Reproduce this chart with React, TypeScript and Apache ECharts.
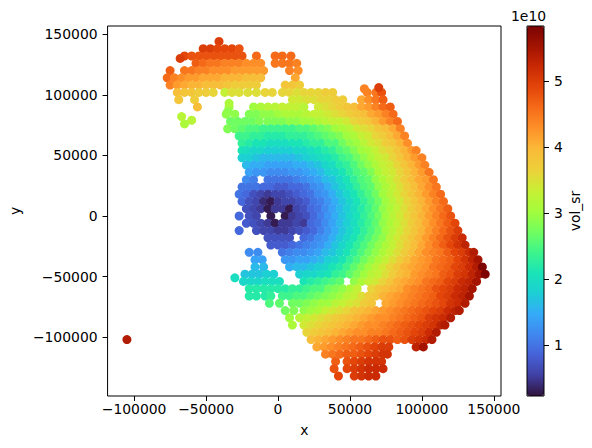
import React, { useEffect, useRef } from "react";
import * as echarts from "echarts";

// x and y in thousands, vol_sr in units of 1e9.
const rowY = [144,138,132,126,120,114,108,102,96,90,84,78,72,66,60,54,48,42,36,30,24,18,12,6,0,-6,-12,-18,-24,-30,-36,-42,-48,-54,-60,-66,-72,-78,-84,-90,-96,-102,-108,-114,-120,-126,-132];
const rowCells: number[][] = [
[-41,50],
[-52,50,-47,50,-42,49,-37,49,-32,49,-27,48],
[-65,49,-60,48,-55,48,-50,48,-45,48,-40,48,-35,48,-30,48,-25,48,-15,46,-2,46,3,46,9,46],
[-57,47,-52,46,-47,45,-42,45,-37,44,-32,44,-27,44,-22,43,-17,43,-12,43,-2,45,3,45,8,45,13,44],
[-75,47,-65,45,-60,45,-55,44,-50,44,-45,43,-40,43,-35,43,-30,42,-25,42,-20,42,-15,42,-10,42,8,44,14,43],
[-77,46,-72,44,-67,43,-62,42,-57,42,-52,41,-47,41,-42,41,-37,40,-32,40,-27,40,-22,39,-17,39,-12,39,12,41],
[-75,44,-70,42,-65,41,-60,40,-55,40,-50,39,-45,39,-40,39,-35,38,-30,37,-25,37,-20,37,-15,37,5,38,10,38,15,37],
[-70,39,-65,38,-60,38,-55,37,-50,37,-45,36,-37,33,-32,35,-27,35,-21,35,-15,35,-9,36,-4,36,3,36,8,36,13,35,18,36,23,36,28,36,33,37,38,37,62,44,68,45,72,48],
[-69,38,-58,37,10,34,15,34,20,35,25,35,30,36,35,36,40,37,45,37,58,41,63,43,68,45,73,47],
[-56,39,-34,30,-17,30,-12,31,-7,32,-2,32,3,33,8,33,13,33,18,32,28,34,33,35,38,36,43,37,48,38,53,39,58,41,63,42,68,44,73,46,78,47],
[-36,29,-30,29,-20,28,-15,28,-10,29,-5,29,0,30,5,31,10,31,15,31,20,32,25,33,30,33,35,34,40,35,45,36,50,37,55,38,60,39,65,41,70,42,75,44,80,46],
[-33,27,-28,27,-23,27,-18,27,-13,28,-7,28,-2,28,3,28,8,29,13,29,18,30,23,30,28,31,33,32,38,33,43,33,48,34,53,36,58,37,63,38,68,40,73,42,78,44,83,46],
[-35,28,-30,27,-25,26,-20,25,-15,25,-10,24,-5,24,0,24,5,24,10,24,15,25,20,25,25,26,30,27,35,28,40,30,45,31,50,32,55,34,60,35,65,36,70,38,75,39,80,41,85,44],
[-27,24,-22,24,-17,23,-12,23,-7,22,-2,22,3,22,8,23,13,23,18,23,23,24,28,25,33,26,38,27,43,28,48,30,53,31,58,33,63,34,68,36,73,37,78,39,83,41,88,44],
[-25,23,-20,22,-15,21,-10,21,-5,20,0,20,5,20,10,21,15,21,20,22,25,23,30,23,35,25,40,25,45,27,50,29,55,30,60,32,65,34,70,35,75,37,80,38,85,40,90,43],
[-25,21,-22,20,-17,19,-12,19,-7,18,-2,18,3,18,8,18,13,19,18,19,23,20,28,21,33,22,38,23,43,25,48,26,53,28,58,30,63,31,68,33,73,35,78,36,83,38,88,40,93,42,96,44],
[-25,18,-20,18,-15,17,-10,16,-5,16,0,16,5,16,10,16,15,17,20,18,25,19,30,20,35,21,40,22,45,24,50,25,55,27,60,29,65,31,70,33,75,34,80,36,85,38,90,40,95,42,100,44],
[-22,16,-17,15,-12,15,-7,14,-2,14,3,14,8,14,13,15,18,15,23,16,28,17,33,19,38,20,43,22,48,23,53,25,58,27,63,29,68,31,73,33,78,34,83,36,88,38,93,40,98,42,102,44],
[-20,14,-15,13,-10,13,-5,12,0,12,5,12,10,13,15,13,20,14,25,15,30,16,35,18,40,19,45,21,50,23,55,25,60,26,65,28,70,31,75,33,80,34,85,36,90,38,95,40,100,42,105,45],
[-22,12,-17,11,-7,10,-2,10,3,10,8,10,13,11,18,12,23,13,28,14,33,16,38,17,43,19,48,21,53,23,58,25,63,26,68,29,73,31,78,33,83,35,88,37,93,39,98,41,103,42,108,45],
[-25,10,-20,10,-15,10,-10,9,-5,9,0,8,5,8,10,9,15,9,20,10,25,12,30,13,35,15,40,17,45,19,50,21,55,23,60,25,65,26,70,29,75,31,80,33,85,35,90,37,95,39,100,41,105,43,110,45],
[-27,10,-22,9,-17,7,-12,6,-7,5,-2,6,3,6,8,7,13,8,18,9,23,10,28,12,33,13,38,15,43,17,48,19,53,21,58,23,63,25,68,27,73,30,78,32,83,34,88,36,93,38,98,40,103,42,108,44,113,46],
[-25,9,-20,7,-15,6,-10,4,-5,3,0,5,5,6,10,6,15,7,20,8,25,10,30,11,35,13,40,15,45,17,50,19,55,21,60,23,65,25,70,27,75,30,80,32,85,34,90,36,95,38,100,40,105,42,110,44,115,46],
[-22,7,-17,6,-12,5,-7,3,-2,5,3,5,8,3,13,6,18,7,23,9,28,10,33,12,38,14,43,16,48,18,53,20,58,22,63,24,68,26,73,29,78,31,83,33,88,35,93,37,98,39,103,41,108,43,113,45,118,47],
[-27,9,-20,7,-15,6,-5,3,5,3,10,5,15,6,20,7,25,9,30,11,35,13,40,15,45,17,50,19,55,21,60,23,65,25,70,27,75,30,80,32,85,34,90,36,95,38,100,40,105,42,110,44,115,46,120,48],
[-22,8,-17,7,-12,6,-7,5,-2,3,3,5,8,5,13,6,18,5,23,9,28,10,33,12,38,14,43,16,48,18,53,20,58,22,63,24,68,26,73,29,78,31,83,33,88,35,93,37,98,39,103,41,108,43,113,45,118,47,123,49],
[-27,9,-15,7,-10,6,-5,6,0,5,5,5,10,6,15,7,20,8,25,9,30,11,35,13,40,15,45,17,50,19,55,21,60,23,65,25,70,27,75,30,80,32,85,34,90,36,95,38,100,40,105,42,110,44,115,46,120,48,125,50],
[-7,7,-2,7,3,7,8,7,18,9,23,10,28,12,33,13,38,15,43,17,48,19,53,21,58,23,63,25,68,27,73,29,78,32,83,34,88,36,93,38,98,40,103,42,108,44,113,46,118,48,123,50,128,52],
[-5,8,0,8,5,8,10,9,15,10,20,11,25,12,30,13,35,15,40,17,45,19,50,21,55,23,60,25,65,27,70,29,75,31,80,33,85,35,90,37,95,39,100,41,105,43,110,45,115,47,120,49,125,51,130,53],
[-20,12,-14,12,3,10,8,11,13,12,18,12,23,13,28,14,33,16,38,17,43,19,48,21,53,23,58,25,63,27,68,29,73,31,78,33,83,35,88,37,93,39,98,41,103,43,108,44,113,45,118,47,123,49,128,50,133,52,136,54],
[-16,14,-11,14,5,13,10,13,15,14,20,14,25,15,30,16,35,18,40,19,45,21,50,23,55,25,60,27,65,29,70,31,75,33,80,35,85,37,90,39,95,41,100,42,105,43,110,45,115,46,120,47,125,49,130,51,135,53,139,55],
[-16,16,-10,16,8,15,13,16,18,16,23,17,28,18,33,19,38,21,43,22,48,24,53,26,58,28,63,30,68,32,73,34,78,36,83,38,88,40,93,41,98,42,103,43,108,45,113,46,118,47,123,49,128,50,133,52,138,54,142,58],
[-23,17,-18,17,-13,17,-8,18,-3,18,15,18,20,19,25,19,30,20,35,21,40,23,45,24,50,26,55,28,60,30,65,32,70,33,75,35,80,37,85,39,90,40,95,42,100,43,105,44,110,45,115,47,120,48,125,50,130,51,135,53,140,55,144,58],
[-24,19,-19,19,-14,19,-9,20,-4,20,1,20,18,21,23,22,28,23,33,24,38,25,43,26,53,29,58,31,63,33,68,34,73,36,78,38,83,40,88,41,93,42,98,43,103,45,108,46,113,47,118,49,123,50,128,52,133,53,138,55],
[-20,22,-15,22,-10,22,-5,22,0,22,5,22,10,23,15,23,20,24,25,25,30,25,35,27,40,28,45,29,50,31,55,33,65,36,70,38,75,39,80,40,85,41,90,43,95,44,100,45,105,46,110,48,115,49,120,50,125,52,130,53,135,55],
[-20,22,-15,22,-9,22,-5,23,3,24,8,24,13,25,18,25,23,26,28,27,33,28,38,29,43,30,48,32,53,33,58,35,63,37,68,38,73,40,78,41,83,42,88,43,93,44,98,45,103,46,108,47,113,49,118,50,123,52,128,53,133,55],
[-6,25,1,26,10,27,15,27,20,28,25,29,30,30,35,30,40,32,45,33,50,34,55,35,60,37,65,38,75,41,80,42,85,43,90,44,95,45,100,46,105,47,110,48,115,49,120,51,125,52,130,54],
[5,27,11,28,18,29,23,30,28,31,33,33,38,34,43,35,48,36,53,38,58,39,63,40,68,41,73,42,78,43,83,44,88,45,93,46,98,47,103,48,108,49,113,50,118,52,123,53,126,54],
[8,30,15,32,20,33,25,34,30,35,35,36,40,37,45,38,50,39,55,40,60,41,65,42,70,43,75,43,80,44,85,45,90,46,95,47,100,48,105,50,110,51,115,52,120,54],
[10,31,18,34,23,35,28,36,33,37,38,38,43,39,48,40,53,41,58,42,63,43,68,43,73,44,78,45,83,46,88,47,93,48,98,49,103,50,108,51,113,53,116,54],
[20,36,25,37,30,38,35,39,40,40,45,41,50,42,55,43,60,43,65,44,70,44,75,45,80,46,85,47,90,48,95,49,100,50,105,52,110,54],
[23,39,28,40,33,41,38,42,43,43,48,44,53,45,58,45,63,46,68,47,73,48,78,48,83,47,88,48,93,50,98,51,103,52,107,54],
[27,41,32,42,37,43,42,44,47,45,52,46,57,47,62,48,67,49,72,50,77,50,96,53,101,55],
[33,44,38,45,43,46,48,47,53,47,58,48,63,49,68,50,73,51,76,51],
[40,47,48,48,53,49,58,50,63,51,68,51,72,51],
[39,48,48,49,53,50,58,51,63,52,68,52,73,52],
[42,49,53,50,58,51,63,52,68,52],
];
const strayPoints = [
  [-105,-102,54],[-30,-51,20],[-67,82,32],[-60,79,32],[-65,76,31],[-34,93,31],[60,105,44],[70,106,50],[-35,86,29],[-68,130,50],
];
const xTicks = [-100000,-50000,0,50000,100000,150000];
const yTicks = [-100000,-50000,0,50000,100000,150000];
const barTicks = [1,2,3,4,5];
const turbo = ["#30123b","#4040a3","#4662d8","#4088ef","#35abf8","#1ccfd4","#1ae4b6","#3ef58b","#72fe5e","#a4fc3c","#c8ef34","#edd03a","#faba39","#fe9129","#f66c19","#e4460a","#ca2a04","#a31301","#7a0403"];

const font = "DejaVu Sans";
const fontSize = 13.9;
const fmt = (v: number) => (v < 0 ? "\u2212" + -v : String(v));

export default function App() {
  const ref = useRef<HTMLDivElement>(null);
  useEffect(() => {
    document.body.style.margin = "0";
    const chart = echarts.init(ref.current!, undefined, { renderer: "svg" });
    const points: number[][] = [];
    rowCells.forEach((cells, i) => {
      for (let k = 0; k < cells.length; k += 2) {
        points.push([cells[k] * 1000, rowY[i] * 1000, cells[k + 1] * 1e9]);
      }
    });
    strayPoints.forEach((p) => points.push([p[0] * 1000, p[1] * 1000, p[2] * 1e9]));
    const axisBase = {
      axisLine: { show: false, onZero: false },
      splitLine: { show: false },
      axisTick: { show: true, length: 5, inside: false, lineStyle: { color: "#000", width: 1 } },
      nameTextStyle: { color: "#000", fontFamily: font, fontSize },
      nameLocation: "middle" as const,
    };
    const label = { color: "#000", fontFamily: font, fontSize, hideOverlap: false };
    chart.setOption({
      animation: false,
      backgroundColor: "#fff",
      grid: [
        { left: 104, top: 26, width: 397, height: 370, show: true, borderColor: "#000", borderWidth: 1, backgroundColor: "transparent" },
        { left: 527, top: 26, width: 17, height: 370, show: false },
      ],
      xAxis: [
        {
          ...axisBase, type: "value", gridIndex: 0, min: -118457, max: 154959, name: "x", nameGap: 27,
          axisTick: { ...axisBase.axisTick, customValues: xTicks },
          axisLabel: { ...label, margin: 6, customValues: xTicks, formatter: fmt },
        },
        { type: "value", gridIndex: 1, show: false, min: 0, max: 1 },
      ],
      yAxis: [
        {
          ...axisBase, type: "value", gridIndex: 0, min: -148515, max: 156766, name: "y", nameGap: 84,
          axisTick: { ...axisBase.axisTick, customValues: yTicks },
          axisLabel: { ...label, margin: 10, customValues: yTicks, formatter: fmt },
        },
        {
          ...axisBase, type: "value", gridIndex: 1, position: "right", min: 0.23, max: 5.83, name: "vol_sr", nameGap: 24, nameRotate: 90,
          axisTick: { ...axisBase.axisTick, customValues: barTicks },
          axisLabel: { ...label, margin: 10, customValues: barTicks, formatter: (v: number) => String(v) },
        },
      ],
      visualMap: {
        type: "continuous", seriesIndex: 0, dimension: 2, min: 2.3e9, max: 5.83e10,
        left: 527, top: 26, itemWidth: 17, itemHeight: 370, calculable: false, padding: 0,
        text: null, inRange: { color: turbo }, borderWidth: 0,
      },
      graphic: [
        { type: "rect", z: 100, shape: { x: 527, y: 26, width: 17, height: 370 }, style: { fill: "none", stroke: "#000", lineWidth: 1 } },
        { type: "text", x: 511, y: 9, z: 100, style: { text: "1e10", fill: "#000", fontFamily: font, fontSize } },
      ],
      series: [
        { type: "scatter", xAxisIndex: 0, yAxisIndex: 0, symbolSize: 9, data: points, itemStyle: { opacity: 1 }, silent: true },
      ],
    });
    return () => chart.dispose();
  }, []);
  return <div ref={ref} style={{ width: 592, height: 448 }} />;
}
